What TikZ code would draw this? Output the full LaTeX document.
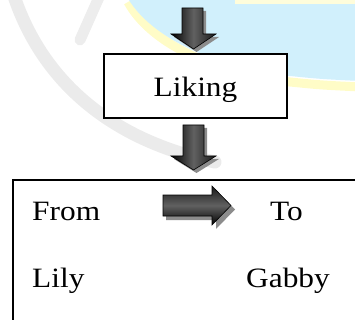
\documentclass[tikz,border=0pt]{standalone}
\usepackage{fontspec}
\setmainfont{Liberation Serif}[FakeStretch=1.12]
\begin{document}
\begin{tikzpicture}[x=1pt,y=-1pt,
  txt/.style={font=\fontsize{28}{34}\selectfont, inner sep=0pt, anchor=base west},
  boxline/.style={draw=black, line width=1.3pt, fill=white},
  arrshadow/.style={fill=black!45},
  darrow/.style={draw=black, line width=0.6pt, left color=black, right color=black!90, middle color=black!62},
  rarrow/.style={draw=black, line width=0.6pt, top color=black!90, bottom color=black, middle color=black!62}]
\useasboundingbox (0,0) rectangle (355,320);
\begin{scope}
\clip (0,0) rectangle (355,320);
% watermark background
\draw[line width=9pt, color=yellow!22] (128,2) .. controls (150,42) and (210,72) .. (290,82) .. controls (320,85) .. (360,87);
\fill[cyan!18] (126,-5) .. controls (148,36) and (210,66) .. (290,76) .. controls (320,79) .. (360,81) -- (360,-5) -- cycle;
\fill[yellow!14] (235,0) rectangle (355,4);
\draw[line width=13pt, color=black!8, line cap=round] (12,-10) .. controls (40,80) and (110,140) .. (215,162);
\draw[line width=11pt, color=black!7, line cap=round] (100,-5) -- (80,40);
% top arrow
\fill[arrshadow] (185,11) -- (206,11) -- (206,37) -- (219,37) -- (196.5,52) -- (174,37) -- (185,37) -- cycle;
\path[darrow] (182,8) coordinate (a1) -- (203,8) -- (203,34) -- (216,34) -- (193.5,49) coordinate (a1tip) -- (171,34) -- (182,34) -- cycle;
% Liking box
\node[boxline, minimum width=183pt, minimum height=64pt] (likingbox) at (195.5,86) {};
\node[txt, anchor=base] (liking) at (195.5,97) {Liking};
% middle arrow
\fill[arrshadow] (186,128) -- (207,128) -- (207,159) -- (219,159) -- (196.5,173) -- (174,159) -- (186,159) -- cycle;
\path[darrow] (183,125) coordinate (a2) -- (204,125) -- (204,156) -- (216,156) -- (193.5,170) coordinate (a2tip) -- (171,156) -- (183,156) -- cycle;
% bottom box
\draw[boxline] (13,180) coordinate (bb) rectangle (380,350);
% right arrow
\fill[arrshadow] (166,199) -- (216,199) -- (216,190) -- (235,209.5) -- (216,229) -- (216,220) -- (166,220) -- cycle;
\path[rarrow] (163,195) coordinate (a3) -- (212,195) -- (212,186) -- (231,205.5) coordinate (a3tip) -- (212,225) -- (212,216) -- (163,216) -- cycle;
% texts
\node[txt] (from) at (32,220) {From};
\node[txt] (to) at (270,220) {To};
\node[txt] (lily) at (32,287) {Lily};
\node[txt] (gabby) at (246,287) {Gabby};
\end{scope}
\end{tikzpicture}
\end{document}
